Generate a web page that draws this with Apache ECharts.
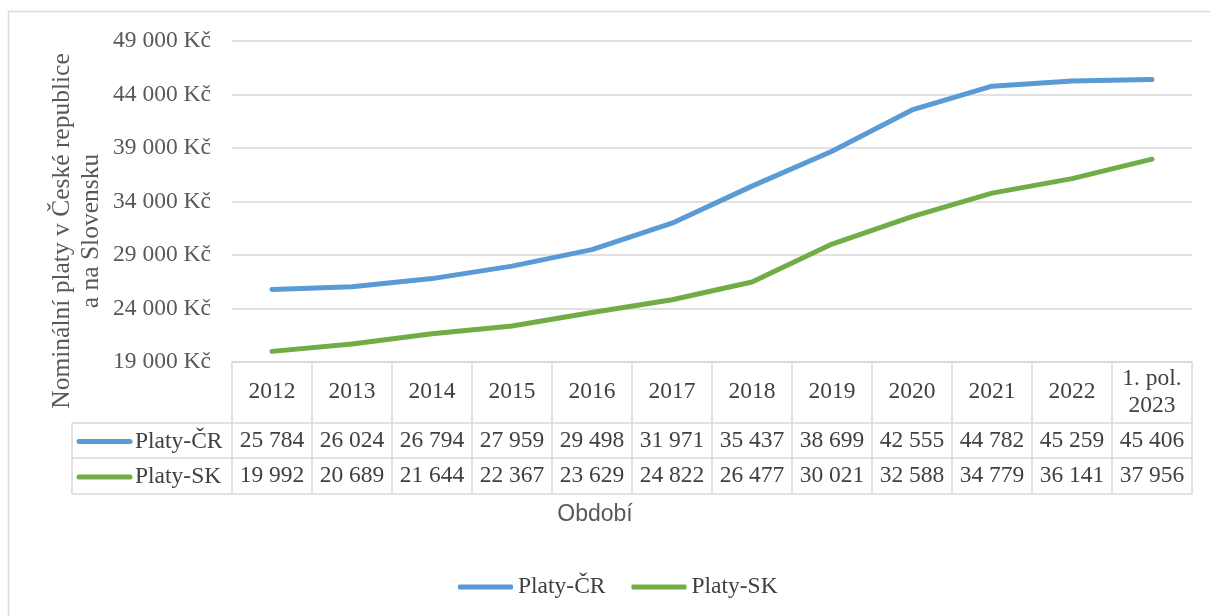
<!DOCTYPE html>
<html>
<head>
<meta charset="utf-8">
<script src="https://cdn.jsdelivr.net/npm/echarts@6/dist/echarts.min.js"></script>
<style>
html,body{margin:0;padding:0;background:#fff;}
#c{width:1210px;height:616px;}
</style>
</head>
<body>
<div id="c"></div>
<script>
// ---- data ----
const categories = ['2012','2013','2014','2015','2016','2017','2018','2019','2020','2021','2022','1. pol.\n2023'];
const platyCR = [25784, 26024, 26794, 27959, 29498, 31971, 35437, 38699, 42555, 44782, 45259, 45406];
const platySK = [19992, 20689, 21644, 22367, 23629, 24822, 26477, 30021, 32588, 34779, 36141, 37956];
const seriesNames = ['Platy-ČR', 'Platy-SK'];
const yTicks = { min: 19000, max: 49000, interval: 5000 };
const yTitle = 'Nominální platy v České republice\na na Slovensku';
const xTitle = 'Období';

// ---- layout / style ----
const SERIF = '"Liberation Serif", "Times New Roman", serif';
const SANS = '"Liberation Sans", Arial, sans-serif';
const FS = 23.5;
const BLUE = '#5B9BD5', GREEN = '#70AD47';
const GRIDC = '#d9d9d9';
const TXT = '#404040';
const G = { left: 232, top: 41, right: 1192, bottom: 362 };
const ROW1 = 423, ROW2 = 458, ROW3 = 494, TABLE_LEFT = 72;

function fmt(n) { return String(n).replace(/\B(?=(\d{3})+(?!\d))/g, ' '); }

const chart = echarts.init(document.getElementById('c'), null, { renderer: 'canvas' });

const hiddenCat = (offset, data, margin, showLine) => ({
  type: 'category', data: data, gridIndex: 0, position: 'bottom', offset: offset,
  boundaryGap: true,
  axisLine: { show: showLine, lineStyle: { color: GRIDC, width: 1.5 } },
  axisTick: { show: false },
  axisLabel: { show: data.some(d => d !== ''), interval: 0, margin: margin, verticalAlign: 'middle',
    fontFamily: SERIF, fontSize: FS, color: TXT },
  splitLine: { show: false }
});

chart.setOption({
  animation: false,
  backgroundColor: '#fff',
  grid: { left: G.left, top: G.top, width: G.right - G.left, height: G.bottom - G.top, containLabel: false },
  xAxis: [
    {
      type: 'category', data: categories, boundaryGap: true, position: 'bottom',
      axisLine: { show: true, lineStyle: { color: GRIDC, width: 1.5 } },
      axisTick: { show: true, interval: 0, length: ROW3 - G.bottom, lineStyle: { color: GRIDC, width: 1.5 } },
      axisLabel: { interval: 0, margin: 30, verticalAlign: 'middle', align: 'center',
        fontFamily: SERIF, fontSize: FS, color: TXT, lineHeight: 27 },
      splitLine: { show: false }
    },
    hiddenCat(ROW1 - G.bottom, platyCR.map(fmt), 17.5, true),
    hiddenCat(ROW2 - G.bottom, platySK.map(fmt), 18, true),
    hiddenCat(ROW3 - G.bottom, categories.map(() => ''), 10, true)
  ],
  yAxis: {
    type: 'value', min: yTicks.min, max: yTicks.max, interval: yTicks.interval,
    axisLine: { show: false }, axisTick: { show: false },
    axisLabel: { margin: 21, fontFamily: SERIF, fontSize: FS, color: '#595959',
      formatter: v => fmt(v) + ' Kč' },
    splitLine: { lineStyle: { color: GRIDC, width: 1.5 } }
  },
  legend: {
    top: 570, left: 453,
    icon: 'roundRect',
    itemWidth: 55, itemHeight: 5, itemGap: 26,
    textStyle: { fontFamily: SERIF, fontSize: FS, color: TXT },
    data: seriesNames
  },
  series: [
    { name: seriesNames[0], type: 'line', data: platyCR, xAxisIndex: 0, symbol: 'none',
      lineStyle: { color: BLUE, width: 5, cap: 'round', join: 'round' }, itemStyle: { color: BLUE } },
    { name: seriesNames[1], type: 'line', data: platySK, xAxisIndex: 0, symbol: 'none',
      lineStyle: { color: GREEN, width: 5, cap: 'round', join: 'round' }, itemStyle: { color: GREEN } }
  ],
  graphic: [
    // outer frame
    { type: 'rect', shape: { x: 8.5, y: 11.5, width: 1220, height: 640 }, style: { fill: 'none', stroke: GRIDC, lineWidth: 1.5 }, silent: true },
    // table legend column lines
    { type: 'line', shape: { x1: TABLE_LEFT, y1: ROW1, x2: G.left, y2: ROW1 }, style: { stroke: GRIDC, lineWidth: 1.5 } },
    { type: 'line', shape: { x1: TABLE_LEFT, y1: ROW2, x2: G.left, y2: ROW2 }, style: { stroke: GRIDC, lineWidth: 1.5 } },
    { type: 'line', shape: { x1: TABLE_LEFT, y1: ROW3, x2: G.left, y2: ROW3 }, style: { stroke: GRIDC, lineWidth: 1.5 } },
    { type: 'line', shape: { x1: TABLE_LEFT, y1: ROW1, x2: TABLE_LEFT, y2: ROW3 }, style: { stroke: GRIDC, lineWidth: 1.5 } },
    // table legend keys
    { type: 'line', shape: { x1: 79, y1: (ROW1 + ROW2) / 2 + 1, x2: 130, y2: (ROW1 + ROW2) / 2 + 1 }, style: { stroke: BLUE, lineWidth: 5, lineCap: 'round' } },
    { type: 'line', shape: { x1: 79, y1: (ROW2 + ROW3) / 2 + 1, x2: 130, y2: (ROW2 + ROW3) / 2 + 1 }, style: { stroke: GREEN, lineWidth: 5, lineCap: 'round' } },
    { type: 'text', x: 135, y: (ROW1 + ROW2) / 2 + 1, style: { text: seriesNames[0], font: FS + 'px ' + SERIF, fill: TXT, textVerticalAlign: 'middle', textAlign: 'left' } },
    { type: 'text', x: 135, y: (ROW2 + ROW3) / 2 + 1, style: { text: seriesNames[1], font: FS + 'px ' + SERIF, fill: TXT, textVerticalAlign: 'middle', textAlign: 'left' } },
    // x title
    { type: 'text', x: 595, y: 515, style: { text: xTitle, font: '23px ' + SANS, fill: '#595959', textAlign: 'center', textVerticalAlign: 'middle' } },
    // y title
    { type: 'text', x: 77, y: 231, rotation: Math.PI / 2,
      style: { text: yTitle, font: '25.5px ' + SERIF, fill: '#595959', textAlign: 'center', textVerticalAlign: 'middle', lineHeight: 29 } }
  ]
});
</script>
</body>
</html>
